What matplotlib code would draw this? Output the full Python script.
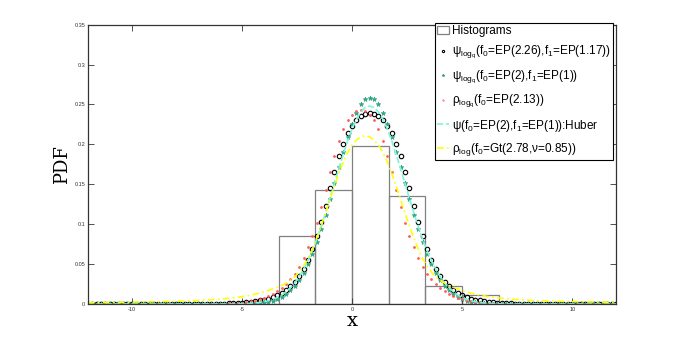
import numpy as np
import matplotlib
matplotlib.use("Agg")
import matplotlib.pyplot as plt

plt.rcParams['font.family'] = ['Liberation Sans', 'DejaVu Sans']
plt.rcParams['mathtext.default'] = 'regular'

# histogram (normalised), bins of width 5/3
bin_left = [-11.667, -10.0, -8.333, -6.667, -5.0, -3.333, -1.667, 0.0,
            1.667, 3.333, 5.0, 6.667, 8.333, 10.0]
bin_height = [0.002, 0.0, 0.0, 0.0, 0.0, 0.085, 0.143, 0.198,
              0.1355, 0.022, 0.011, 0.0, 0.0, 0.002]
bin_width = 5 / 3

# x grid where the fitted densities were read (-12 .. 12, step 0.2)
x = np.round(np.arange(-12, 12.01, 0.2), 1)

# psi_logq  f0=EP(2.26), f1=EP(1.17)   (black circles)
psi_ep226 = [0.0] * 27 + [
    0.0001, 0.0002, 0.0003, 0.0004, 0.0005, 0.0007, 0.0009, 0.0012, 0.0016, 0.0021,
    0.0028, 0.0036, 0.0045, 0.0055, 0.0068, 0.0085, 0.011, 0.014, 0.018, 0.022,
    0.028, 0.035, 0.044, 0.055, 0.069, 0.085, 0.103, 0.123, 0.145, 0.166,
    0.185, 0.201, 0.214, 0.2225, 0.230, 0.235, 0.2385,
    0.239,
    0.2385, 0.235, 0.230, 0.2225, 0.214, 0.201, 0.185, 0.166, 0.145, 0.123,
    0.103, 0.085, 0.069, 0.055, 0.044, 0.035, 0.028, 0.022, 0.018, 0.014,
    0.011, 0.0085, 0.0068, 0.0055, 0.0045, 0.0036, 0.0028, 0.0021, 0.0016, 0.0012,
    0.0009, 0.0007, 0.0005, 0.0004, 0.0003, 0.0002, 0.0001] + [0.0] * 19

# psi_logq  f0=EP(2), f1=EP(1)   (green stars)
psi_ep2 = [0.0] * 33 + [
    0.0001, 0.0001, 0.0002, 0.0004, 0.0006, 0.0009, 0.0014, 0.0020, 0.0030, 0.0044,
    0.0064, 0.0090, 0.0125, 0.0170, 0.0228, 0.0301, 0.0391, 0.0498, 0.0625, 0.0771,
    0.0936, 0.1116, 0.131, 0.151, 0.1713, 0.191, 0.2095, 0.226, 0.2397, 0.250,
    0.2563,
    0.2585,
    0.2563, 0.250, 0.2397, 0.226, 0.2095, 0.191, 0.1713, 0.151, 0.131, 0.1116,
    0.0936, 0.0771, 0.0625, 0.0498, 0.0391, 0.0301, 0.0228, 0.0170, 0.0125, 0.0090,
    0.0064, 0.0044, 0.0030, 0.0020, 0.0014, 0.0009, 0.0006, 0.0004, 0.0002, 0.0001,
    0.0001] + [0.0] * 25

# rho_logq  f0=EP(2.13)   (red dots)
rho_ep213 = [0.0] * 27 + [
    0.0001, 0.0002, 0.0003, 0.0004, 0.0005, 0.0007, 0.0010, 0.0014, 0.0019, 0.0025,
    0.0033, 0.0044, 0.0058, 0.0076, 0.0098, 0.0125, 0.016, 0.020, 0.025, 0.031,
    0.038, 0.047, 0.058, 0.071, 0.085, 0.102, 0.122, 0.143, 0.165, 0.186,
    0.204, 0.219, 0.230, 0.237, 0.2415,
    0.243,
    0.2415, 0.237, 0.230, 0.219, 0.204, 0.186, 0.165, 0.143, 0.122, 0.102,
    0.085, 0.071, 0.058, 0.047, 0.038, 0.031, 0.025, 0.020, 0.016, 0.0125,
    0.0098, 0.0076, 0.0058, 0.0044, 0.0033, 0.0025, 0.0019, 0.0014, 0.0010, 0.0007,
    0.0005, 0.0004, 0.0003, 0.0002, 0.0001] + [0.0] * 23

# psi  f0=EP(2), f1=EP(1) : Huber   (cyan dashed)
psi_huber = [0.0] * 33 + [
    0.0001, 0.0002, 0.0004, 0.0006, 0.0009, 0.0013, 0.0020, 0.0029, 0.0042, 0.0059,
    0.0082, 0.0113, 0.0153, 0.0203, 0.0266, 0.0343, 0.0437, 0.0546, 0.0673, 0.0816,
    0.0975, 0.1146, 0.1327, 0.1513, 0.1699, 0.1878, 0.2045, 0.2192, 0.2314, 0.2405,
    0.2461,
    0.248,
    0.2461, 0.2405, 0.2314, 0.2192, 0.2045, 0.1878, 0.1699, 0.1513, 0.1327, 0.1146,
    0.0975, 0.0816, 0.0673, 0.0546, 0.0437, 0.0343, 0.0266, 0.0203, 0.0153, 0.0113,
    0.0082, 0.0059, 0.0042, 0.0029, 0.0020, 0.0013, 0.0009, 0.0006, 0.0004, 0.0002,
    0.0001] + [0.0] * 25

# rho_log  f0=Gt(2.78, nu=0.85)   (yellow dash-dot)
rho_gt = [
    0.0017, 0.0018, 0.0018, 0.0019, 0.0020, 0.0020, 0.0021, 0.0022, 0.0022, 0.0023,
    0.0024, 0.0025, 0.0026, 0.0027, 0.0028, 0.0029, 0.0030, 0.0031, 0.0032, 0.0034,
    0.0035, 0.0037, 0.0039, 0.0041, 0.0043, 0.0045, 0.0048, 0.0051, 0.0054, 0.0058,
    0.0062, 0.0067, 0.0072, 0.0078, 0.0085, 0.0093, 0.0102, 0.0112, 0.0123, 0.0137,
    0.0152, 0.017, 0.019, 0.021, 0.023, 0.026, 0.030, 0.034, 0.040, 0.048,
    0.057, 0.069, 0.083, 0.098, 0.114, 0.131, 0.148, 0.164, 0.178, 0.190,
    0.199, 0.2055, 0.2095,
    0.211,
    0.2095, 0.2055, 0.199, 0.190, 0.178, 0.164, 0.148, 0.131, 0.114, 0.098,
    0.083, 0.069, 0.057, 0.048, 0.040, 0.034, 0.030, 0.026, 0.023, 0.021,
    0.019, 0.017, 0.0152, 0.0137, 0.0123, 0.0112, 0.0102, 0.0093, 0.0085, 0.0078,
    0.0072, 0.0067, 0.0062, 0.0058, 0.0054, 0.0051, 0.0048, 0.0045, 0.0043, 0.0041,
    0.0039, 0.0037, 0.0035, 0.0034, 0.0032, 0.0031, 0.0030, 0.0029, 0.0028, 0.0027,
    0.0026, 0.0025, 0.0024, 0.0023, 0.0022, 0.0022, 0.0021]

labels = [
    'Histograms',
    'ψ$_{log_q}$(f$_0$=EP(2.26),f$_1$=EP(1.17))',
    'ψ$_{log_q}$(f$_0$=EP(2),f$_1$=EP(1))',
    'ρ$_{log_q}$(f$_0$=EP(2.13))',
    'ψ(f$_0$=EP(2),f$_1$=EP(1)):Huber',
    'ρ$_{log}$(f$_0$=Gt(2.78,ν=0.85))',
]

fig = plt.figure(figsize=(6.81, 3.42), dpi=100)
ax = fig.add_axes([0.129, 0.111, 0.776, 0.817])

bars = ax.bar(bin_left, bin_height, width=bin_width, align='edge', fill=False,
              edgecolor='#808080', linewidth=0.9)

h1, = ax.plot(x, psi_ep226, 'o', mfc='none', mec='black', ms=3.2, mew=0.8)
h2, = ax.plot(x, psi_ep2, '*', color='#33a383', ms=3.5, mew=0.5)
h3, = ax.plot(x, rho_ep213, '.', color='#ff5c5c', ms=2.0)
h4, = ax.plot(x, psi_huber, '--', color='#7ff5d8', lw=1.2)
h5, = ax.plot(x, rho_gt, '-.', color='#ffff00', lw=1.2, dashes=(4, 2, 1, 2))

ax.set_xlim(-12, 12)
ax.set_ylim(0, 0.35)
ax.set_xticks([-10, -5, 0, 5, 10])
ax.set_xticklabels(['-10', '-5', '0', '5', '10'])
ax.set_yticks([0, 0.05, 0.1, 0.15, 0.2, 0.25, 0.3, 0.35])
ax.set_yticklabels(['0', '0.05', '0.1', '0.15', '0.2', '0.25', '0.3', '0.35'])
ax.tick_params(direction='in', length=4, width=0.6, labelsize=4,
               top=True, right=True, pad=2, colors='#333333')
for s in ax.spines.values():
    s.set_linewidth(0.9)
    s.set_color('#333333')

ax.set_xlabel('x', family='serif', fontsize=14, labelpad=0)
ax.set_ylabel('PDF', family='serif', fontsize=13, labelpad=2)

leg = ax.legend([bars, h1, h2, h3, h4, h5], labels,
                loc='upper right', bbox_to_anchor=(0.993, 1.005), fontsize=8.5,
                frameon=True, fancybox=False, framealpha=1, edgecolor='black',
                handlelength=1.0, handletextpad=0.25, labelspacing=0.62,
                borderpad=0.15, borderaxespad=0, numpoints=1, markerscale=0.5)
leg.get_frame().set_linewidth(0.8)

fig.savefig('out.png', dpi=100)
